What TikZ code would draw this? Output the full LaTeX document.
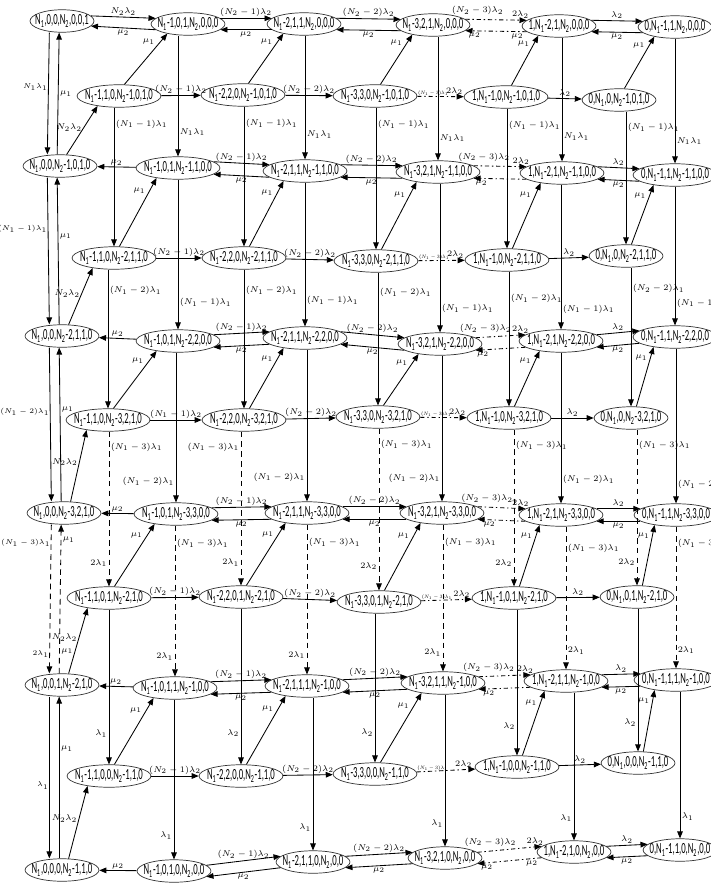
\documentclass[tikz,border=0pt]{standalone}
\usepackage{fontspec}
\usepackage{amsmath}
\usetikzlibrary{shapes.geometric, arrows.meta}
\newfontfamily\statefont[FakeStretch=0.56]{Carlito}
\newcommand{\Na}{N\textsubscript{1}}
\newcommand{\Nb}{N\textsubscript{2}}
\newcommand{\smallrate}{\scalebox{0.58}{$(N_1-3)\lambda_1$}}

\begin{document}
\begin{tikzpicture}[x=0.025cm, y=-0.025cm, line width=0.6pt,
        state/.style={ellipse, draw=black!80, line width=0.5pt, inner xsep=-3pt, inner ysep=0.8pt, minimum height=16pt, font=\statefont\fontsize{11}{11}\selectfont},
        lbl/.style={font=\fontsize{5.8}{7}\selectfont, inner sep=1pt},
        sidelbl/.style={font=\fontsize{5.4}{6}\selectfont, inner sep=0.3pt},
        tinylbl/.style={font=\fontsize{5.8}{7}\selectfont, inner sep=0.3pt, anchor=south west},
        dd/.style={dash pattern=on 3pt off 2pt on 1pt off 2pt},
        vd/.style={dash pattern=on 4pt off 3pt},
        >={Triangle[length=5pt,width=4pt]}
    ]
        \path[fill=white, use as bounding box] (0,0) rectangle (710,894);
        % Filas A (estados principales) y filas B (intermedias)
        \node[state] (A00) at (62,21) {\Na,0,0,\Nb,0,0,1};
        \node[state] (A01) at (188,24) {\Na-1,0,1,\Nb,0,0,0};
        \node[state] (A02) at (304,24) {\Na-2,1,1,\Nb,0,0,0};
        \node[state] (A03) at (433,25) {\Na-3,2,1,\Nb,0,0,0};
        \node[state] (A04) at (559,26) {1,\Na-2,1,\Nb,0,0,0};
        \node[state] (A05) at (675,27) {0,\Na-1,1,\Nb,0,0,0};
        \node[state] (B00) at (119,96) {\Na-1,1,0,\Nb-1,0,1,0};
        \node[state] (B01) at (243,95) {\Na-2,2,0,\Nb-1,0,1,0};
        \node[state] (B02) at (375,96) {\Na-3,3,0,\Nb-1,0,1,0};
        \node[state] (B03) at (506,97) {1,\Na-1,0,\Nb-1,0,1,0};
        \node[state] (B04) at (619,100) {0,\Na,0,\Nb-1,0,1,0};
        \node[state] (A10) at (60,166) {\Na,0,0,\Nb-1,0,1,0};
        \node[state] (A11) at (178,168) {\Na-1,0,1,\Nb-1,1,0,0};
        \node[state] (A12) at (305,171) {\Na-2,1,1,\Nb-1,1,0,0};
        \node[state] (A13) at (438,172) {\Na-3,2,1,\Nb-1,1,0,0};
        \node[state] (A14) at (562,173) {1,\Na-2,1,\Nb-1,1,0,0};
        \node[state] (A15) at (675,175) {0,\Na-1,1,\Nb-1,1,0,0};
        \node[state] (B10) at (114,258) {\Na-1,1,0,\Nb-2,1,1,0};
        \node[state] (B11) at (244,258) {\Na-2,2,0,\Nb-2,1,1,0};
        \node[state] (B12) at (376,261) {\Na-3,3,0,\Nb-2,1,1,0};
        \node[state] (B13) at (507,260) {1,\Na-1,0,\Nb-2,1,1,0};
        \node[state] (B14) at (626,256) {0,\Na,0,\Nb-2,1,1,0};
        \node[state] (A20) at (62,336) {\Na,0,0,\Nb-2,1,1,0};
        \node[state] (A21) at (178,341) {\Na-1,0,1,\Nb-2,2,0,0};
        \node[state] (A22) at (305,338) {\Na-2,1,1,\Nb-2,2,0,0};
        \node[state] (A23) at (440,344) {\Na-3,2,1,\Nb-2,2,0,0};
        \node[state] (A24) at (561,341) {1,\Na-2,1,\Nb-2,2,0,0};
        \node[state] (A25) at (675,337) {0,\Na-1,1,\Nb-2,2,0,0};
        \node[state] (B20) at (108,420) {\Na-1,1,0,\Nb-3,2,1,0};
        \node[state] (B21) at (244,420) {\Na-2,2,0,\Nb-3,2,1,0};
        \node[state] (B22) at (378,417) {\Na-3,3,0,\Nb-3,2,1,0};
        \node[state] (B23) at (509,418) {1,\Na-1,0,\Nb-3,2,1,0};
        \node[state] (B24) at (631,418) {0,\Na,0,\Nb-3,2,1,0};
        \node[state] (A30) at (64,513) {\Na,0,0,\Nb-3,2,1,0};
        \node[state] (A31) at (176,514) {\Na-1,0,1,\Nb-3,3,0,0};
        \node[state] (A32) at (307,513) {\Na-2,1,1,\Nb-3,3,0,0};
        \node[state] (A33) at (442,513) {\Na-3,2,1,\Nb-3,3,0,0};
        \node[state] (A34) at (561,515) {1,\Na-2,1,\Nb-3,3,0,0};
        \node[state] (A35) at (676,515) {0,\Na-1,1,\Nb-3,3,0,0};
        \node[state] (B30) at (109,598) {\Na-1,1,0,1,\Nb-2,1,0};
        \node[state] (B31) at (241,597) {\Na-2,2,0,1,\Nb-2,1,0};
        \node[state] (B32) at (379,602) {\Na-3,3,0,1,\Nb-2,1,0};
        \node[state] (B33) at (514,598) {1,\Na-1,0,1,\Nb-2,1,0};
        \node[state] (B34) at (637,597) {0,\Na,0,1,\Nb-2,1,0};
        \node[state] (A40) at (62,685) {\Na,0,0,1,\Nb-2,1,0};
        \node[state] (A41) at (175,688) {\Na-1,0,1,1,\Nb-1,0,0};
        \node[state] (A42) at (307,686) {\Na-2,1,1,1,\Nb-1,0,0};
        \node[state] (A43) at (443,683) {\Na-3,2,1,1,\Nb-1,0,0};
        \node[state] (A44) at (566,681) {1,\Na-2,1,1,\Nb-1,0,0};
        \node[state] (A45) at (676,680) {0,\Na-1,1,1,\Nb-1,0,0};
        \node[state] (B40) at (109,776) {\Na-1,1,0,0,\Nb-1,1,0};
        \node[state] (B41) at (241,776) {\Na-2,2,0,0,\Nb-1,1,0};
        \node[state] (B42) at (375,774) {\Na-3,3,0,0,\Nb-1,1,0};
        \node[state] (B43) at (517,767) {1,\Na-1,0,0,\Nb-1,1,0};
        \node[state] (B44) at (638,763) {0,\Na,0,0,\Nb-1,1,0};
        \node[state] (A50) at (62,870) {\Na,0,0,0,\Nb-1,1,0};
        \node[state] (A51) at (174,871) {\Na-1,0,1,0,\Nb,0,0};
        \node[state] (A52) at (313,862) {\Na-2,1,1,0,\Nb,0,0};
        \node[state] (A53) at (445,858) {\Na-3,2,1,0,\Nb,0,0};
        \node[state] (A54) at (574,852) {1,\Na-2,1,0,\Nb,0,0};
        \node[state] (A55) at (680,850) {0,\Na-1,1,0,\Nb,0,0};
        % Fila A0: flechas horizontales
        \draw[->] (A00.10) -- node[lbl,above]{$N_2\lambda_2$} (A01.170);
        \draw[->] (A01.190) -- node[lbl,below]{$\mu_2$} (A00.350);
        \draw[->] (A01.10) -- node[lbl,above]{$(N_2-1)\lambda_2$} (A02.170);
        \draw[->] (A02.190) -- node[lbl,below]{$\mu_2$} (A01.350);
        \draw[->] (A02.10) -- node[lbl,above]{$(N_2-2)\lambda_2$} (A03.170);
        \draw[->] (A03.190) -- node[lbl,below]{$\mu_2$} (A02.350);
        \draw[->,dd] (A03.10) -- node[lbl,above=2pt,pos=.2]{$(N_2-3)\lambda_2$} node[lbl,above,pos=.9]{$2\lambda_2$} (A04.170);
        \draw[->,dd] (A04.190) -- node[lbl,below,pos=.15]{$\mu_2$} node[lbl,below,pos=.85]{$\mu_2$} (A03.350);
        \draw[->] (A04.10) -- node[lbl,above]{$\lambda_2$} (A05.170);
        \draw[->] (A05.190) -- node[lbl,below]{$\mu_2$} (A04.350);
        % Fila A1
        \draw[->] (A11) -- node[lbl,above]{$\mu_2$} (A10);
        \draw[->] (A11.10) -- node[lbl,above]{$(N_2-1)\lambda_2$} (A12.170);
        \draw[->] (A12.190) -- node[lbl,below]{$\mu_2$} (A11.350);
        \draw[->] (A12.10) -- node[lbl,above]{$(N_2-2)\lambda_2$} (A13.170);
        \draw[->] (A13.190) -- node[lbl,below]{$\mu_2$} (A12.350);
        \draw[->,dd] (A13.10) -- node[lbl,above=2pt,pos=.2]{$(N_2-3)\lambda_2$} node[lbl,above,pos=.9]{$2\lambda_2$} (A14.170);
        \draw[->,dd] (A14.190) -- node[lbl,below,pos=.85]{$\mu_2$} (A13.350);
        \draw[->] (A14.10) -- node[lbl,above]{$\lambda_2$} (A15.170);
        \draw[->] (A15.190) -- node[lbl,below]{$\mu_2$} (A14.350);
        % Fila A2
        \draw[->] (A21) -- node[lbl,above]{$\mu_2$} (A20);
        \draw[->] (A21.10) -- node[lbl,above]{$(N_2-1)\lambda_2$} (A22.170);
        \draw[->] (A22.190) -- node[lbl,below]{$\mu_2$} (A21.350);
        \draw[->] (A22.10) -- node[lbl,above]{$(N_2-2)\lambda_2$} (A23.170);
        \draw[->] (A23.190) -- node[lbl,below]{$\mu_2$} (A22.350);
        \draw[->,dd] (A23.10) -- node[lbl,above=2pt,pos=.2]{$(N_2-3)\lambda_2$} node[lbl,above,pos=.9]{$2\lambda_2$} (A24.170);
        \draw[->,dd] (A24.190) -- node[lbl,below,pos=.85]{$\mu_2$} (A23.350);
        \draw[->] (A24.10) -- node[lbl,above]{$\lambda_2$} (A25.170);
        \draw[->] (A25.190) -- node[lbl,below]{$\mu_2$} (A24.350);
        % Fila A3
        \draw[->] (A31) -- node[lbl,above]{$\mu_2$} (A30);
        \draw[->] (A31.10) -- node[lbl,above]{$(N_2-1)\lambda_2$} (A32.170);
        \draw[->] (A32.190) -- node[lbl,below]{$\mu_2$} (A31.350);
        \draw[->] (A32.10) -- node[lbl,above]{$(N_2-2)\lambda_2$} (A33.170);
        \draw[->] (A33.190) -- node[lbl,below]{$\mu_2$} (A32.350);
        \draw[->,dd] (A33.10) -- node[lbl,above=2pt,pos=.2]{$(N_2-3)\lambda_2$} node[lbl,above,pos=.9]{$2\lambda_2$} (A34.170);
        \draw[->,dd] (A34.190) -- node[lbl,below,pos=.75]{$\mu_2$} (A33.350);
        \draw[->] (A34.10) -- node[lbl,above]{$\lambda_2$} (A35.170);
        \draw[->] (A35.190) -- node[lbl,below]{$\mu_2$} (A34.350);
        % Fila A4
        \draw[->] (A41) -- node[lbl,above]{$\mu_2$} (A40);
        \draw[->] (A41.10) -- node[lbl,above]{$(N_2-1)\lambda_2$} (A42.170);
        \draw[->] (A42.190) -- node[lbl,below]{$\mu_2$} (A41.350);
        \draw[->] (A42.10) -- node[lbl,above]{$(N_2-2)\lambda_2$} (A43.170);
        \draw[->] (A43.190) -- node[lbl,below]{$\mu_2$} (A42.350);
        \draw[->,dd] (A43.10) -- node[lbl,above=2pt,pos=.2]{$(N_2-3)\lambda_2$} node[lbl,above,pos=.9]{$2\lambda_2$} (A44.170);
        \draw[->,dd] (A44.190) -- node[lbl,below,pos=.8]{$\mu_2$} (A43.350);
        \draw[->] (A44.10) -- node[lbl,above]{$\lambda_2$} (A45.170);
        \draw[->] (A45.190) -- node[lbl,below]{$\mu_2$} (A44.350);
        % Fila A5
        \draw[->] (A51) -- node[lbl,above]{$\mu_2$} (A50);
        \draw[->] (A51.10) -- node[lbl,above]{$(N_2-1)\lambda_2$} (A52.170);
        \draw[->] (A52.190) -- node[lbl,below]{$\mu_2$} (A51.350);
        \draw[->] (A52.10) -- node[lbl,above]{$(N_2-2)\lambda_2$} (A53.170);
        \draw[->] (A53.190) -- node[lbl,below]{$\mu_2$} (A52.350);
        \draw[->,dd] (A53.10) -- node[lbl,above=2pt,pos=.2]{$(N_2-3)\lambda_2$} node[lbl,above,pos=.9]{$2\lambda_2$} (A54.170);
        \draw[->,dd] (A54.190) -- node[lbl,below,pos=.15]{$\mu_2$} node[lbl,below,pos=.85]{$\mu_2$} (A53.350);
        \draw[->] (A54.10) -- node[lbl,above]{$\lambda_2$} (A55.170);
        \draw[->] (A55.190) -- node[lbl,below]{$\mu_2$} (A54.350);
        % Columna 0: ida y vuelta entre filas A
        \draw[->] ([xshift=-9pt]A00.south) -- node[sidelbl,left,pos=.45]{$N_1\lambda_1$} ([xshift=-9pt]A10.north);
        \draw[->] ([xshift=-2pt]A10.north) -- node[lbl,right]{$\mu_1$} ([xshift=-2pt]A00.south);
        \draw[->] ([xshift=-9pt]A10.south) -- node[sidelbl,left,pos=.35]{$(N_1-1)\lambda_1$} ([xshift=-9pt]A20.north);
        \draw[->] ([xshift=-2pt]A20.north) -- node[lbl,right,pos=.6]{$\mu_1$} ([xshift=-2pt]A10.south);
        \draw[->] ([xshift=-9pt]A20.south) -- node[sidelbl,left,pos=.42]{$(N_1-2)\lambda_1$} ([xshift=-9pt]A30.north);
        \draw[->] ([xshift=-2pt]A30.north) -- node[lbl,right,pos=.6]{$\mu_1$} ([xshift=-2pt]A20.south);
        \draw[->,vd] ([xshift=-9pt]A30.south) -- node[sidelbl,left,pos=.12]{$(N_1-3)\lambda_1$} node[sidelbl,left,pos=.87]{$2\lambda_1$} ([xshift=-9pt]A40.north);
        \draw[->,vd] ([xshift=-2pt]A40.north) -- node[lbl,right,pos=.9]{$\mu_1$} node[lbl,right,pos=.15]{$\mu_1$} ([xshift=-2pt]A30.south);
        \draw[->] ([xshift=-9pt]A40.south) -- node[sidelbl,left,pos=.55]{$\lambda_1$} ([xshift=-9pt]A50.north);
        \draw[->] ([xshift=-2pt]A50.north) -- node[lbl,right,pos=.68]{$\mu_1$} ([xshift=-2pt]A40.south);
        % Columnas 1-5: bajadas entre filas A
        \draw[->] (A11 |- A01.south) -- node[lbl,right,pos=.8]{$N_1\lambda_1$} (A11.north);
        \draw[->] (A12 |- A02.south) -- node[lbl,right,pos=.8]{$N_1\lambda_1$} (A12.north);
        \draw[->] (A13 |- A03.south) -- node[lbl,right,pos=.82]{$N_1\lambda_1$} (A13.north);
        \draw[->] (A14 |- A04.south) -- node[lbl,right,pos=.8]{$N_1\lambda_1$} (A14.north);
        \draw[->] (A15 |- A05.south) -- node[lbl,right,pos=.82]{$N_1\lambda_1$} (A15.north);
        \draw[->] (A21 |- A11.south) -- node[lbl,right,pos=.82]{$(N_1-1)\lambda_1$} (A21.north);
        \draw[->] (A22 |- A12.south) -- node[lbl,right,pos=.82]{$(N_1-1)\lambda_1$} (A22.north);
        \draw[->] (A23 |- A13.south) -- node[lbl,right,pos=.84]{$(N_1-1)\lambda_1$} (A23.north);
        \draw[->] (A24 |- A14.south) -- node[lbl,right,pos=.86]{$(N_1-1)\lambda_1$} (A24.north);
        \draw[->] (A25 |- A15.south) -- node[lbl,right,pos=.84]{$(N_1-1)\lambda_1$} (A25.north);
        \draw[->] (A31 |- A21.south) -- node[lbl,left,pos=.86]{$(N_1-2)\lambda_1$} (A31.north);
        \draw[->] (A32 |- A22.south) -- node[lbl,left,pos=.84]{$(N_1-2)\lambda_1$} (A32.north);
        \draw[->] (A33 |- A23.south) -- node[lbl,left,pos=.84]{$(N_1-2)\lambda_1$} (A33.north);
        \draw[->] (A34 |- A24.south) -- node[lbl,right,pos=.84]{$(N_1-2)\lambda_1$} (A34.north);
        \draw[->] (A35 |- A25.south) -- node[lbl,right,pos=.88]{$(N_1-2)\lambda_1$} (A35.north);
        \draw[->,vd] (A41 |- A31.south) -- node[lbl,right,pos=.12]{$(N_1-3)\lambda_1$} node[lbl,left,pos=.87]{$2\lambda_1$} (A41.north);
        \draw[->,vd] (A42 |- A32.south) -- node[lbl,right,pos=.12]{$(N_1-3)\lambda_1$} node[lbl,left,pos=.87]{$2\lambda_1$} (A42.north);
        \draw[->,vd] (A43 |- A33.south) -- node[lbl,right,pos=.12]{$(N_1-3)\lambda_1$} node[lbl,left,pos=.87]{$2\lambda_1$} (A43.north);
        \draw[->,vd] (A44 |- A34.south) -- node[lbl,right,pos=.15]{$(N_1-3)\lambda_1$} node[lbl,right,pos=.87]{$2\lambda_1$} (A44.north);
        \draw[->,vd] (A45 |- A35.south) -- node[lbl,right,pos=.12]{$(N_1-3)\lambda_1$} node[lbl,right,pos=.87]{$2\lambda_1$} (A45.north);
        \draw[->] (A51 |- A41.south) -- node[lbl,left,pos=.85]{$\lambda_1$} (A51.north);
        \draw[->] (A52 |- A42.south) -- node[lbl,left,pos=.85]{$\lambda_1$} (A52.north);
        \draw[->] (A53 |- A43.south) -- node[lbl,left,pos=.85]{$\lambda_1$} (A53.north);
        \draw[->] (A54 |- A44.south) -- node[lbl,left,pos=.85]{$\lambda_1$} (A54.north);
        \draw[->] (A55 |- A45.south) -- node[lbl,right,pos=.85]{$\lambda_1$} (A55.north);
        % Filas B: flechas horizontales
        \draw[->] (B00) -- node[lbl,above]{$(N_2-1)\lambda_2$} (B01);
        \draw[->] (B01) -- node[lbl,above]{$(N_2-2)\lambda_2$} (B02);
        \draw[->,dd] (B02) -- node[tinylbl,pos=0]{\smallrate} node[lbl,above,pos=.8]{$2\lambda_2$} (B03);
        \draw[->] (B03) -- node[lbl,above]{$\lambda_2$} (B04);
        \draw[->] (B10) -- node[lbl,above]{$(N_2-1)\lambda_2$} (B11);
        \draw[->] (B11) -- node[lbl,above]{$(N_2-2)\lambda_2$} (B12);
        \draw[->,dd] (B12) -- node[tinylbl,pos=0]{\smallrate} node[lbl,above,pos=.8]{$2\lambda_2$} (B13);
        \draw[->] (B13) -- node[lbl,above]{$\lambda_2$} (B14);
        \draw[->] (B20) -- node[lbl,above]{$(N_1-1)\lambda_2$} (B21);
        \draw[->] (B21) -- node[lbl,above]{$(N_2-2)\lambda_2$} (B22);
        \draw[->,dd] (B22) -- node[tinylbl,pos=0]{\smallrate} node[lbl,above,pos=.8]{$2\lambda_2$} (B23);
        \draw[->] (B23) -- node[lbl,above]{$\lambda_2$} (B24);
        \draw[->] (B30) -- node[lbl,above]{$(N_2-1)\lambda_2$} (B31);
        \draw[->] (B31) -- node[lbl,above]{$(N_2-2)\lambda_2$} (B32);
        \draw[->,dd] (B32) -- node[tinylbl,pos=0]{\smallrate} node[lbl,above,pos=.8]{$2\lambda_2$} (B33);
        \draw[->] (B33) -- node[lbl,above]{$\lambda_2$} (B34);
        \draw[->] (B40) -- node[lbl,above]{$(N_2-1)\lambda_2$} (B41);
        \draw[->] (B41) -- node[lbl,above]{$(N_2-2)\lambda_2$} (B42);
        \draw[->,dd] (B42) -- node[tinylbl,pos=0]{\smallrate} node[lbl,above,pos=.8]{$2\lambda_2$} (B43);
        \draw[->] (B43) -- node[lbl,above]{$\lambda_2$} (B44);
        % Filas B: bajadas
        \draw[->] (B10 |- B00.south) -- node[lbl,right,pos=.12]{$(N_1-1)\lambda_1$} (B10.north);
        \draw[->] (B11 |- B01.south) -- node[lbl,right,pos=.12]{$(N_1-1)\lambda_1$} (B11.north);
        \draw[->] (B12 |- B02.south) -- node[lbl,right,pos=.12]{$(N_1-1)\lambda_1$} (B12.north);
        \draw[->] (B13 |- B03.south) -- node[lbl,right,pos=.12]{$(N_1-1)\lambda_1$} (B13.north);
        \draw[->] (B14 |- B04.south) -- node[lbl,right,pos=.12]{$(N_1-1)\lambda_1$} (B14.north);
        \draw[->] (B20 |- B10.south) -- node[lbl,right,pos=.15]{$(N_1-2)\lambda_1$} (B20.north);
        \draw[->] (B21 |- B11.south) -- node[lbl,right,pos=.15]{$(N_1-2)\lambda_1$} (B21.north);
        \draw[->] (B22 |- B12.south) -- node[lbl,right,pos=.15]{$(N_1-2)\lambda_1$} (B22.north);
        \draw[->] (B23 |- B13.south) -- node[lbl,right,pos=.2]{$(N_1-2)\lambda_1$} (B23.north);
        \draw[->] (B24 |- B14.south) -- node[lbl,right,pos=.15]{$(N_2-2)\lambda_1$} (B24.north);
        \draw[->,vd] (B30 |- B20.south) -- node[lbl,right,pos=.1]{$(N_1-3)\lambda_1$} node[lbl,left,pos=.85]{$2\lambda_1$} (B30.north);
        \draw[->,vd] (B31 |- B21.south) -- node[lbl,left,pos=.1]{$(N_1-3)\lambda_1$} node[lbl,left,pos=.85]{$2\lambda_1$} (B31.north);
        \draw[->,vd] (B32 |- B22.south) -- node[lbl,right,pos=.1]{$(N_1-3)\lambda_1$} node[lbl,left,pos=.85]{$2\lambda_2$} (B32.north);
        \draw[->,vd] (B33 |- B23.south) -- node[lbl,right,pos=.1]{$(N_1-3)\lambda_1$} node[lbl,left,pos=.85]{$2\lambda_2$} (B33.north);
        \draw[->,vd] (B34 |- B24.south) -- node[lbl,right,pos=.1]{$(N_1-3)\lambda_1$} node[lbl,left,pos=.85]{$2\lambda_2$} (B34.north);
        \draw[->] (B40 |- B30.south) -- node[lbl,left,pos=.8]{$\lambda_1$} (B40.north);
        \draw[->] (B41 |- B31.south) -- node[lbl,left,pos=.8]{$\lambda_2$} (B41.north);
        \draw[->] (B42 |- B32.south) -- node[lbl,left,pos=.8]{$\lambda_2$} (B42.north);
        \draw[->] (B43 |- B33.south) -- node[lbl,left,pos=.8]{$\lambda_2$} (B43.north);
        \draw[->] (B44 |- B34.south) -- node[lbl,left,pos=.8]{$\lambda_2$} (B44.north);
        % Diagonales: B sube a A con mu_1
        \draw[->] (B00.65) -- node[lbl,above left,pos=.75]{$\mu_1$} (A01.205);
        \draw[->] (B01.65) -- node[lbl,above left,pos=.75]{$\mu_1$} (A02.205);
        \draw[->] (B02.65) -- node[lbl,above left,pos=.75]{$\mu_1$} (A03.205);
        \draw[->] (B03.65) -- node[lbl,above left,pos=.75]{$\mu_1$} (A04.205);
        \draw[->] (B04.65) -- node[lbl,above left,pos=.75]{$\mu_1$} (A05.205);
        \draw[->] (B10.65) -- node[lbl,above left,pos=.75]{$\mu_1$} (A11.205);
        \draw[->] (B11.65) -- node[lbl,above left,pos=.75]{$\mu_1$} (A12.205);
        \draw[->] (B12.65) -- node[lbl,above left,pos=.75]{$\mu_1$} (A13.205);
        \draw[->] (B13.65) -- node[lbl,above left,pos=.75]{$\mu_1$} (A14.205);
        \draw[->] (B14.65) -- node[lbl,above left,pos=.75]{$\mu_1$} (A15.205);
        \draw[->] (B20.65) -- node[lbl,above left,pos=.75]{$\mu_1$} (A21.205);
        \draw[->] (B21.65) -- node[lbl,above left,pos=.75]{$\mu_1$} (A22.205);
        \draw[->] (B22.65) -- node[lbl,above left,pos=.75]{$\mu_1$} (A23.205);
        \draw[->] (B23.65) -- node[lbl,above left,pos=.75]{$\mu_1$} (A24.205);
        \draw[->] (B24.65) -- node[lbl,above left,pos=.75]{$\mu_1$} (A25.205);
        \draw[->] (B30.65) -- node[lbl,above left,pos=.75]{$\mu_1$} (A31.205);
        \draw[->] (B31.65) -- node[lbl,above left,pos=.75]{$\mu_1$} (A32.205);
        \draw[->] (B32.65) -- node[lbl,above left,pos=.75]{$\mu_1$} (A33.205);
        \draw[->] (B33.65) -- node[lbl,above left,pos=.75]{$\mu_1$} (A34.205);
        \draw[->] (B34.65) -- node[lbl,above left,pos=.75]{$\mu_1$} (A35.205);
        \draw[->] (B40.65) -- node[lbl,above left,pos=.75]{$\mu_1$} (A41.205);
        \draw[->] (B41.65) -- node[lbl,above left,pos=.75]{$\mu_1$} (A42.205);
        \draw[->] (B42.65) -- node[lbl,above left,pos=.75]{$\mu_1$} (A43.205);
        \draw[->] (B43.65) -- node[lbl,above left,pos=.75]{$\mu_1$} (A44.205);
        \draw[->] (B44.65) -- node[lbl,above left,pos=.75]{$\mu_1$} (A45.205);
        % Diagonales: columna 0 de A sube a B con N_2 lambda_2
        \draw[->] (A10.60) -- node[lbl,left,pos=.55]{$N_2\lambda_2$} (B00.205);
        \draw[->] (A20.60) -- node[lbl,left,pos=.55]{$N_2\lambda_2$} (B10.205);
        \draw[->] (A30.60) -- node[lbl,left,pos=.55]{$N_2\lambda_2$} (B20.205);
        \draw[->] (A40.60) -- node[lbl,left,pos=.55]{$N_2\lambda_2$} (B30.205);
        \draw[->] (A50.60) -- node[lbl,left,pos=.55]{$N_2\lambda_2$} (B40.205);
    \end{tikzpicture}
\end{document}
